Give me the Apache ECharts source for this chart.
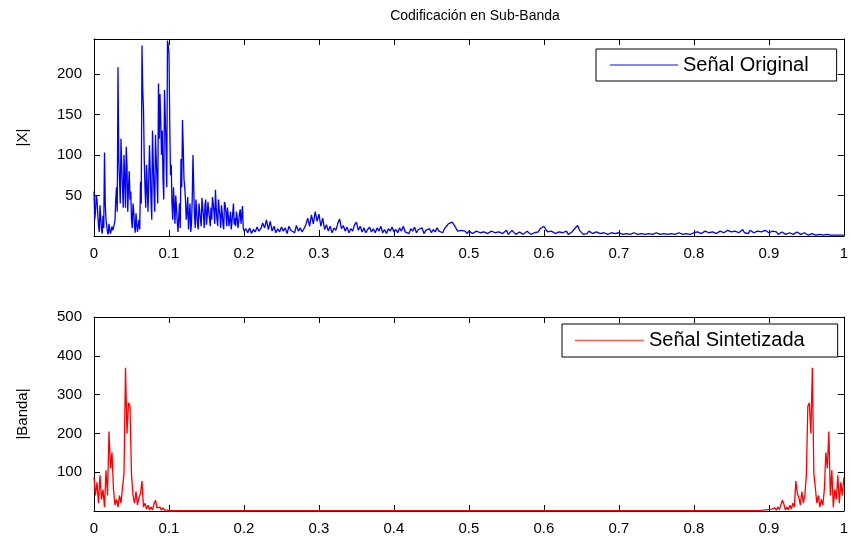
<!DOCTYPE html>
<html><head><meta charset="utf-8">
<script src="https://cdn.jsdelivr.net/npm/echarts@6/dist/echarts.min.js"></script>
<style>html,body{margin:0;padding:0;background:#fff}#c{width:851px;height:537px}</style>
</head><body><div id="c"></div>
<script>
const titleText = 'Codificación en Sub-Banda';
const nameOrig = 'Señal Original';
const nameSint = 'Señal Sintetizada';
const yNameTop = '|X|';
const yNameBottom = '|Banda|';

// |X| : f = 0 .. 0.200, step 0.001
const origLowStart = 0, origLowStep = 0.001;
const origLow = [
  55, 20, 30, 50, 45, 28, 12, 5, 38, 22,
  8, 3, 25, 10, 103, 40, 20, 12, 5, 2,
  15, 8, 3, 1, 12, 7, 5, 14, 20, 45,
  60, 30, 208, 95, 70, 40, 120, 85, 60, 35,
  100, 70, 35, 110, 85, 30, 60, 80, 45, 55,
  20, 10, 40, 30, 12, 4, 28, 15, 5, 3,
  20, 8, 67, 40, 235, 180, 157, 95, 60, 35,
  88, 60, 30, 70, 112, 80, 45, 20, 130, 90,
  55, 30, 125, 95, 70, 40, 188, 120, 175, 140,
  100, 130, 70, 45, 180, 150, 110, 60, 241, 235,
  225, 140, 75, 88, 40, 20, 60, 38, 15, 50,
  35, 18, 5, 22, 40, 10, 95, 60, 143, 110,
  70, 60, 45, 20, 30, 48, 8, 25, 40, 5,
  15, 45, 100, 60, 25, 10, 45, 30, 15, 8,
  40, 30, 20, 12, 47, 35, 25, 10, 38, 45,
  14, 25, 42, 30, 22, 12, 35, 20, 48, 40,
  30, 15, 57, 35, 20, 12, 45, 33, 25, 10,
  38, 28, 15, 8, 42, 38, 28, 12, 35, 25,
  12, 20, 30, 8, 18, 28, 40, 14, 22, 12,
  30, 22, 10, 18, 28, 33, 15, 25, 37, 10,
  6
];
// |X| : f = 0.2025 .. 0.500, step 0.0025
const origMidStart = 0.2025, origMidStep = 0.0025;
const origMid = [
  9, 4, 10, 3, 8, 5, 11, 6, 9, 16,
  10, 20, 8, 18, 6, 12, 4, 9, 5, 11,
  6, 10, 3, 12, 7, 9, 4, 13, 6, 10,
  5, 9, 14, 22, 12, 26, 15, 30, 18, 27,
  12, 22, 8, 14, 6, 12, 4, 10, 7, 15,
  21, 9, 13, 6, 11, 4, 9, 6, 14, 17,
  7, 12, 5, 10, 4, 8, 11, 5, 9, 4,
  10, 6, 12, 4, 8, 3, 9, 6, 11, 5,
  8, 4, 10, 6, 12, 5, 7, 3, 9, 6,
  11, 4, 8, 6, 10, 3, 7, 5, 9, 4,
  8, 5, 10, 6, 7, 4, 9, 12, 15, 13,
  17, 14, 10, 6, 4, 7, 5, 6, 3, 6
];
// |X| : f = 0.5025 .. 1.000, step 0.0025
const origHighStart = 0.5025, origHighStep = 0.0025;
const origHigh = [
  5, 3, 2, 6, 7, 4, 2, 5, 6, 3, 2, 6, 5, 4, 2, 5, 6, 3, 4, 7,
  2, 4, 7, 5, 2, 3, 5, 6, 2, 4, 6, 5, 2, 3, 4, 6, 5, 9, 7, 12,
  8, 5, 3, 6, 5, 3, 2, 5, 6, 4, 3, 6, 2, 4, 5, 8, 9, 13, 7, 5,
  2, 4, 3, 6, 5, 3, 2, 5, 4, 3, 2, 4, 3, 2, 1, 4, 2, 3, 1, 4,
  3, 2, 1, 3, 3, 2, 1, 4, 2, 2, 1, 3, 3, 2, 1, 3, 3, 2, 1, 4,
  3, 2, 1, 3, 3, 2, 1, 3, 3, 2, 1, 4, 3, 2, 1, 3, 3, 2, 2, 4,
  2, 5, 6, 3, 2, 6, 7, 4, 2, 5, 6, 3, 3, 6, 7, 4, 3, 7, 8, 5,
  3, 6, 7, 4, 3, 8, 4, 5, 3, 7, 6, 4, 3, 6, 7, 5, 3, 7, 6, 4,
  3, 6, 7, 5, 2, 4, 5, 6, 2, 3, 4, 5, 2, 3, 5, 4, 2, 3, 4, 3,
  1, 2, 3, 3, 1, 2, 2, 2, 1, 1, 2, 1, 1, 1, 1, 1, 1, 1, 1, 1
];

// |Banda| : f = 0 .. 0.120, step 0.002
const sintLowStart = 0, sintLowStep = 0.002;
const sintLow = [
  87, 40, 74, 20, 92, 30, 55, 10, 105, 40,
  205, 110, 151, 55, 15, 30, 10, 40, 20, 60,
  97, 369, 200, 279, 270, 93, 40, 20, 50, 15,
  35, 45, 77, 10, 20, 5, 15, 3, 10, 3,
  18, 28, 8, 4, 10, 2, 8, 2, 5, 2,
  4, 1, 3, 1, 2, 1, 1, 1, 1, 1,
  1
];
// |Banda| : f = 0.880 .. 1.000, step 0.002
const sintHighStart = 0.88, sintHighStep = 0.002;
const sintHigh = [
  1, 1, 1, 1, 1, 1, 2, 1, 3, 1,
  4, 2, 5, 2, 8, 2, 10, 4, 8, 28,
  18, 3, 10, 3, 15, 5, 20, 10, 77, 45,
  35, 15, 50, 20, 40, 93, 270, 279, 200, 369,
  97, 60, 20, 40, 10, 30, 15, 55, 151, 110,
  205, 40, 105, 10, 55, 30, 92, 20, 74, 40,
  87
];

function toPairs(start, step, vals) {
  return vals.map((v, i) => [Math.round((start + i * step) * 100000) / 100000, v]);
}
const origData = toPairs(origLowStart, origLowStep, origLow)
  .concat(toPairs(origMidStart, origMidStep, origMid))
  .concat(toPairs(origHighStart, origHighStep, origHigh));
const sintData = toPairs(sintLowStart, sintLowStep, sintLow)
  .concat(toPairs(sintHighStart, sintHighStep, sintHigh));

const FF = '"Liberation Sans", Arial, Helvetica, sans-serif';
const axisCol = '#000';

function xAx(grid, pos) {
  return {
    type: 'value', gridIndex: grid, position: pos, min: 0, max: 1, interval: 0.1,
    axisLine: { show: true, onZero: false, lineStyle: { color: axisCol, width: 1 } },
    axisTick: { show: true, inside: true, length: 6, lineStyle: { color: axisCol } },
    axisLabel: { show: pos === 'bottom', fontSize: 15, color: '#000', fontFamily: FF, margin: 10 },
    splitLine: { show: false }
  };
}
function yAx(grid, pos, max, interval, name) {
  return {
    type: 'value', gridIndex: grid, position: pos, min: 0, max: max, interval: interval,
    name: pos === 'left' ? name : '', nameLocation: 'middle', nameGap: 64,
    nameTextStyle: { fontSize: 15, color: '#000', fontFamily: FF },
    axisLine: { show: true, onZero: false, lineStyle: { color: axisCol, width: 1 } },
    axisTick: { show: true, inside: true, length: 6, lineStyle: { color: axisCol } },
    axisLabel: { show: pos === 'left', fontSize: 15, color: '#000', fontFamily: FF, margin: 12,
                 showMinLabel: false, showMaxLabel: max % interval === 0 },
    splitLine: { show: false }
  };
}

const chart = echarts.init(document.getElementById('c'), null, { renderer: 'canvas' });
chart.setOption({
  animation: false,
  backgroundColor: '#fff',
  title: {
    text: titleText, left: 470, top: 4, textAlign: 'center',
    textStyle: { fontSize: 14, fontWeight: 'normal', color: '#000', fontFamily: FF }
  },
  grid: [
    { left: 94, top: 39, width: 753, height: 197 },
    { left: 94, top: 317, width: 753, height: 194 }
  ],
  xAxis: [xAx(0, 'bottom'), xAx(0, 'top'), xAx(1, 'bottom'), xAx(1, 'top')],
  yAxis: [yAx(0, 'left', 243, 50, yNameTop), yAx(0, 'right', 243, 50, ''),
          yAx(1, 'left', 500, 100, yNameBottom), yAx(1, 'right', 500, 100, '')],
  legend: [
    { data: [nameOrig], left: 596, top: 49, padding: [6, 28, 6, 14], itemWidth: 68, itemHeight: 1.5,
      icon: 'rect', borderColor: '#000', borderWidth: 1, backgroundColor: '#fff', selectedMode: false,
      itemStyle: { color: '#5c5cff' },
      textStyle: { fontSize: 20, color: '#000', fontFamily: FF } },
    { data: [nameSint], left: 562, top: 324, padding: [6.5, 33, 6.5, 13], itemWidth: 69, itemHeight: 1.5,
      icon: 'rect', borderColor: '#000', borderWidth: 1, backgroundColor: '#fff', selectedMode: false,
      itemStyle: { color: '#ff5c5c' },
      textStyle: { fontSize: 20, color: '#000', fontFamily: FF } }
  ],
  series: [
    { type: 'line', name: nameOrig, xAxisIndex: 0, yAxisIndex: 0, data: origData,
      symbol: 'none', lineStyle: { color: '#0000ff', width: 1.3 }, itemStyle: { color: '#0000ff' } },
    { type: 'line', name: nameSint, xAxisIndex: 2, yAxisIndex: 2, data: sintData,
      symbol: 'none', lineStyle: { color: '#ff0000', width: 1.3 }, itemStyle: { color: '#ff0000' } }
  ]
});
</script>
</body></html>
